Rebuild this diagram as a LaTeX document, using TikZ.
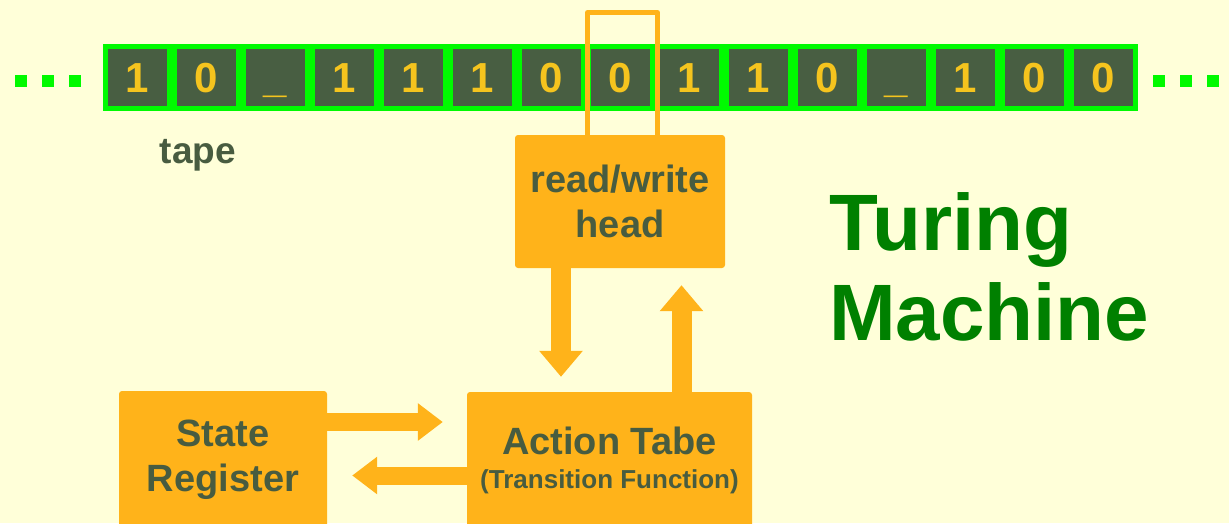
\documentclass[tikz,border=0pt]{standalone}
\usepackage{fontspec}
\setmainfont{Liberation Sans}
\usetikzlibrary{arrows.meta, positioning}
\definecolor{paper}{RGB}{255,255,217}
\definecolor{tapegreen}{RGB}{0,250,0}
\definecolor{tapedark}{RGB}{72,94,66}
\definecolor{digit}{RGB}{245,196,30}
\definecolor{amber}{RGB}{255,179,26}
\definecolor{ink}{RGB}{72,92,64}
\definecolor{titlegreen}{RGB}{0,128,0}
\tikzstyle{cell} = [rectangle, minimum width = 64pt, minimum height = 62pt,
  inner sep = 0pt, draw = tapegreen, line width = 5pt, fill = tapedark,
  text = digit, font = \bfseries\fontsize{42}{42}\selectfont,
  text height = 30pt, text depth = 0pt]
\tikzstyle{dot} = [rectangle, minimum size = 12pt, inner sep = 0pt,
  fill = tapegreen]
\tikzstyle{unit} = [
  rectangle, rounded corners = 3pt,
  inner sep = 0pt, fill = amber, text = ink, align = center
]
\tikzstyle{frame} = [draw = amber, line width = 5pt, line join = round]
\tikzstyle{flow} = [draw = amber, line width = 20pt,
  -{Triangle[width = 42pt, length = 26pt]}]
\tikzstyle{flow-h} = [flow, line width = 18pt,
  -{Triangle[width = 36pt, length = 25pt]}]

\begin{document}
\begin{tikzpicture}[x = 1pt, y = -1pt, node distance = 0]
      \fill [paper] (0, 0) rectangle (1229, 523);
      \useasboundingbox (0, 0) rectangle (1229, 523);
      \clip (0, 0) rectangle (1229, 523);
      % tape
      \node [cell] (cell-0) at (137.5, 77.5) {1};
      \node [cell, right of = cell-0, xshift = 69] (cell-1) {0};
      \node [cell, right of = cell-1, xshift = 69] (cell-2) {\_};
      \node [cell, right of = cell-2, xshift = 69] (cell-3) {1};
      \node [cell, right of = cell-3, xshift = 69] (cell-4) {1};
      \node [cell, right of = cell-4, xshift = 69] (cell-5) {1};
      \node [cell, right of = cell-5, xshift = 69] (cell-6) {0};
      \node [cell, right of = cell-6, xshift = 69] (cell-7) {0};
      \node [cell, right of = cell-7, xshift = 69] (cell-8) {1};
      \node [cell, right of = cell-8, xshift = 69] (cell-9) {1};
      \node [cell, right of = cell-9, xshift = 69] (cell-10) {0};
      \node [cell, right of = cell-10, xshift = 69] (cell-11) {\_};
      \node [cell, right of = cell-11, xshift = 69] (cell-12) {1};
      \node [cell, right of = cell-12, xshift = 69] (cell-13) {0};
      \node [cell, right of = cell-13, xshift = 69] (cell-14) {0};
      % dots
      \node [dot] (dot-l-a) at (21, 81) {};
      \node [dot, right of = dot-l-a, xshift = 27] (dot-l-b) {};
      \node [dot, right of = dot-l-b, xshift = 27] (dot-l-c) {};
      \node [dot] (dot-r-a) at (1159, 81) {};
      \node [dot, right of = dot-r-a, xshift = 27] (dot-r-b) {};
      \node [dot, right of = dot-r-b, xshift = 27] (dot-r-c) {};
      \node [text = ink, font = \bfseries\fontsize{37}{37}\selectfont,
        anchor = base] (tape) at (198, 163) {tape};

      % machine
      \node [unit, minimum width = 210pt, minimum height = 133pt,
        font = \bfseries\fontsize{38}{45}\selectfont]
        (hd) at (620, 201.5) {read/write\\head};
      \node [unit, minimum width = 208pt, minimum height = 138pt,
        font = \bfseries\fontsize{38}{45}\selectfont]
        (state) at (223, 460) {State\\Register};
      \node [unit, minimum width = 285pt, minimum height = 136pt,
        font = \bfseries\fontsize{38}{34}\selectfont]
        (act) at (609.5, 460)
        {Action Tabe\\{\fontsize{26}{34}\selectfont (Transition Function)}};
      \node [text = titlegreen, font = \bfseries\fontsize{80}{90}\selectfont,
        align = left, anchor = west, inner sep = 0pt]
        (title) at (829, 266.5) {Turing\\Machine};

      % head over the tape
      \coordinate (frame-nw) at (587.5, 12.5);
      \coordinate (frame-ne) at (657.5, 12.5);
      \draw [frame] (frame-nw |- hd.north) -- (frame-nw) -- (frame-ne)
        -- (frame-ne |- hd.north);

      \coordinate (rd) at ([xshift = -59pt] hd.south);
      \coordinate (wr) at ([xshift = 72pt] act.north);
      \coordinate (st-out) at ([yshift = 38pt] state.east);
      \coordinate (act-out) at ([yshift = -15.5pt] act.west);
      \draw [flow, shorten > = 15pt] (rd) -- (rd |- act.north);
      \draw [flow, shorten > = 17pt] (wr) -- (wr |- hd.south);
      \draw [flow-h, shorten > = 24pt] (st-out) -- (st-out -| act.west);
      \draw [flow-h, shorten > = 25pt] (act-out) -- (act-out -| state.east);
    \end{tikzpicture}
\end{document}
